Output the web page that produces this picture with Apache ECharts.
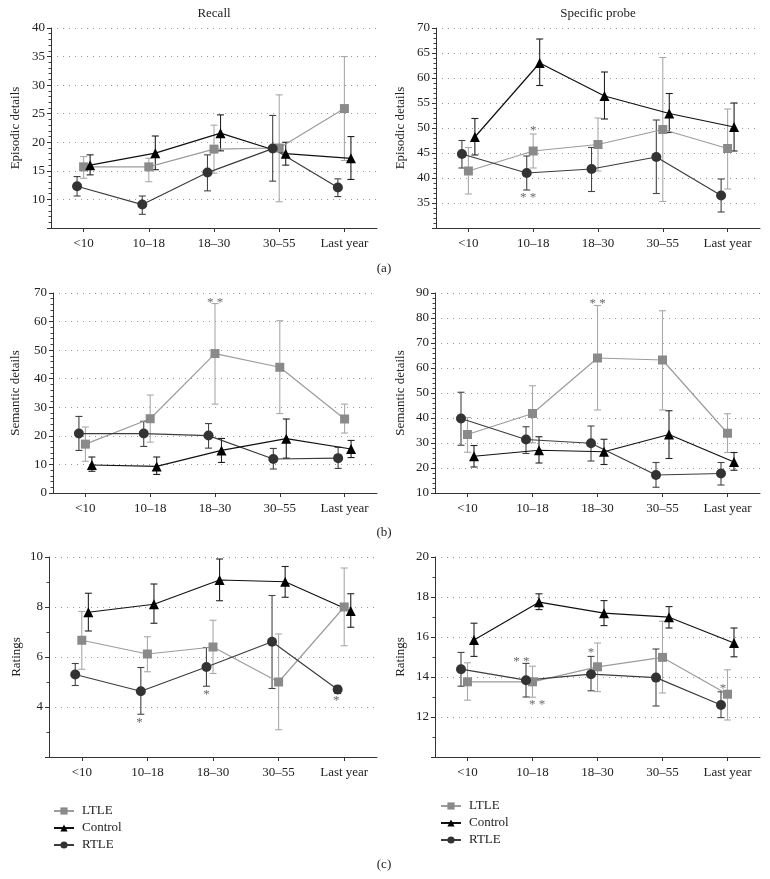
<!DOCTYPE html>
<html>
<head>
<meta charset="utf-8">
<script src="https://cdn.jsdelivr.net/npm/echarts@6/dist/echarts.min.js"></script>
<style>html,body{margin:0;padding:0;background:#fff;}#chart{width:770px;height:879px;}</style>
</head>
<body>
<div id="chart"></div>
<script>
// ---------- DATA ----------
const categories = ['<10', '10–18', '18–30', '30–55', 'Last year'];
const seriesNames = ['LTLE', 'Control', 'RTLE'];

// (a) Episodic details – Recall
const epiRecall_LTLE = [15.7, 15.7, 18.8, 19.0, 25.9];
const epiRecall_LTLE_err = [[13.7, 17.5], [13.1, 17.2], [14.6, 23.0], [9.6, 28.3], [16.8, 35.0]];
const epiRecall_Control = [16.0, 18.1, 21.6, 18.0, 17.2];
const epiRecall_Control_err = [[14.3, 17.8], [15.2, 21.1], [18.5, 24.8], [16.0, 20.0], [13.5, 21.0]];
const epiRecall_RTLE = [12.3, 9.1, 14.7, 18.9, 12.1];
const epiRecall_RTLE_err = [[10.6, 14.0], [7.4, 10.6], [11.5, 17.8], [13.2, 24.7], [10.5, 13.6]];

// (a) Episodic details – Specific probe
const epiProbe_LTLE = [41.4, 45.4, 46.7, 49.7, 45.9];
const epiProbe_LTLE_err = [[36.8, 46.1], [42.0, 48.8], [41.4, 52.0], [35.3, 64.1], [37.8, 53.8]];
const epiProbe_Control = [48.2, 63.0, 56.4, 52.9, 50.2];
const epiProbe_Control_err = [[44.6, 51.9], [58.5, 67.8], [51.8, 61.2], [49.1, 56.9], [45.4, 55.0]];
const epiProbe_RTLE = [44.8, 41.0, 41.8, 44.2, 36.5];
const epiProbe_RTLE_err = [[42.0, 47.5], [37.6, 44.4], [37.3, 46.1], [36.9, 51.6], [33.2, 39.8]];

// (b) Semantic details – Recall
const semRecall_LTLE = [17.1, 26.0, 48.8, 44.0, 25.9];
const semRecall_LTLE_err = [[11.1, 23.1], [17.8, 34.3], [31.1, 66.3], [27.8, 60.3], [21.0, 31.1]];
const semRecall_Control = [9.8, 9.3, 14.9, 19.0, 15.4];
const semRecall_Control_err = [[7.6, 12.6], [6.5, 12.6], [10.7, 19.1], [12.2, 25.9], [12.4, 18.4]];
const semRecall_RTLE = [20.8, 20.8, 20.1, 11.9, 12.2];
const semRecall_RTLE_err = [[14.9, 26.8], [16.3, 25.1], [15.7, 24.3], [8.4, 15.6], [8.6, 16.0]];

// (b) Semantic details – Specific probe
const semProbe_LTLE = [33.4, 41.8, 64.0, 63.2, 33.9];
const semProbe_LTLE_err = [[26.3, 40.2], [30.1, 52.9], [43.2, 85.0], [43.2, 82.9], [26.2, 41.7]];
const semProbe_Control = [24.7, 27.1, 26.5, 33.4, 22.4];
const semProbe_Control_err = [[20.4, 29.0], [22.0, 32.5], [21.4, 31.5], [23.8, 42.9], [19.1, 26.2]];
const semProbe_RTLE = [39.8, 31.4, 29.9, 17.2, 17.8];
const semProbe_RTLE_err = [[29.1, 50.3], [25.8, 36.5], [22.8, 36.8], [12.3, 22.2], [13.2, 22.2]];

// (c) Ratings – Recall
const ratRecall_LTLE = [6.67, 6.12, 6.40, 5.00, 8.00];
const ratRecall_LTLE_err = [[5.51, 7.82], [5.41, 6.81], [5.34, 7.47], [3.09, 6.92], [6.45, 9.56]];
const ratRecall_Control = [7.79, 8.11, 9.08, 9.01, 7.84];
const ratRecall_Control_err = [[7.04, 8.55], [7.35, 8.92], [8.25, 9.92], [8.39, 9.62], [7.19, 8.53]];
const ratRecall_RTLE = [5.30, 4.63, 5.60, 6.61, 4.70];
const ratRecall_RTLE_err = [[4.86, 5.74], [3.71, 5.58], [4.83, 6.38], [4.74, 8.46], [4.54, 4.84]];

// (c) Ratings – Specific probe
const ratProbe_LTLE = [13.76, 13.76, 14.51, 14.98, 13.14];
const ratProbe_LTLE_err = [[12.84, 14.71], [12.99, 14.54], [13.27, 15.70], [13.20, 16.79], [11.85, 14.36]];
const ratProbe_Control = [15.85, 17.74, 17.19, 16.99, 15.70];
const ratProbe_Control_err = [[15.03, 16.69], [17.37, 18.16], [16.57, 17.82], [16.45, 17.52], [15.01, 16.45]];
const ratProbe_RTLE = [14.39, 13.84, 14.14, 13.97, 12.60];
const ratProbe_RTLE_err = [[13.54, 15.23], [13.00, 14.68], [13.31, 15.03], [12.55, 15.40], [11.97, 13.26]];

// significance marks: [category position, y value, text]
const epiProbe_marks = [[1.0, 50.0, '*'], [0.92, 36.6, '* *']];
const semRecall_marks = [[2.0, 67.6, '* *']];
const semProbe_marks = [[2.0, 87.0, '* *']];
const ratRecall_marks = [[0.88, 3.5, '*'], [1.9, 4.6, '*'], [3.88, 4.37, '*']];
const ratProbe_marks = [[0.83, 14.92, '* *'], [1.07, 12.75, '* *'], [1.9, 15.35, '*'], [3.93, 13.55, '*']];

// ---------- CHART ----------
const FONT = '"Liberation Serif", "DejaVu Serif", serif';
const TXT = '#222';
const styles = {
  LTLE:    { symbol: 'rect',     size: 9,  marker: '#8a8a8a', line: '#9c9c9c', err: '#a9a9a9', dx: 0 },
  Control: { symbol: 'triangle', size: 10, marker: '#000000', line: '#111111', err: '#222222', dx: 0.1 },
  RTLE:    { symbol: 'circle',   size: 10, marker: '#333333', line: '#3c3c3c', err: '#444444', dx: -0.1 }
};

const panels = [
  { grid: { left: 51, top: 28, width: 326, height: 200 }, y: { min: 5, max: 40, interval: 5, minor: 5, hideMin: true }, name: 'Episodic details', gap: 29,
    data: { LTLE: [epiRecall_LTLE, epiRecall_LTLE_err], Control: [epiRecall_Control, epiRecall_Control_err], RTLE: [epiRecall_RTLE, epiRecall_RTLE_err] }, marks: [] },
  { grid: { left: 436, top: 28, width: 324, height: 200 }, y: { min: 30, max: 70, interval: 5, minor: 5, hideMin: true }, name: 'Episodic details', gap: 29,
    data: { LTLE: [epiProbe_LTLE, epiProbe_LTLE_err], Control: [epiProbe_Control, epiProbe_Control_err], RTLE: [epiProbe_RTLE, epiProbe_RTLE_err] }, marks: epiProbe_marks },
  { grid: { left: 53, top: 293, width: 324, height: 200 }, y: { min: 0, max: 70, interval: 10, minor: 5, hideMin: false }, name: 'Semantic details', gap: 31,
    data: { LTLE: [semRecall_LTLE, semRecall_LTLE_err], Control: [semRecall_Control, semRecall_Control_err], RTLE: [semRecall_RTLE, semRecall_RTLE_err] }, marks: semRecall_marks },
  { grid: { left: 435, top: 293, width: 325, height: 200 }, y: { min: 10, max: 90, interval: 10, minor: 5, hideMin: false }, name: 'Semantic details', gap: 28,
    data: { LTLE: [semProbe_LTLE, semProbe_LTLE_err], Control: [semProbe_Control, semProbe_Control_err], RTLE: [semProbe_RTLE, semProbe_RTLE_err] }, marks: semProbe_marks },
  { grid: { left: 49, top: 557, width: 328, height: 200 }, y: { min: 2, max: 10, interval: 2, minor: 2, hideMin: true }, name: 'Ratings', gap: 26,
    data: { LTLE: [ratRecall_LTLE, ratRecall_LTLE_err], Control: [ratRecall_Control, ratRecall_Control_err], RTLE: [ratRecall_RTLE, ratRecall_RTLE_err] }, marks: ratRecall_marks },
  { grid: { left: 435, top: 557, width: 325, height: 200 }, y: { min: 10, max: 20, interval: 2, minor: 2, hideMin: true }, name: 'Ratings', gap: 28,
    data: { LTLE: [ratProbe_LTLE, ratProbe_LTLE_err], Control: [ratProbe_Control, ratProbe_Control_err], RTLE: [ratProbe_RTLE, ratProbe_RTLE_err] }, marks: ratProbe_marks }
];

const grid = [], xAxis = [], yAxis = [], series = [];
panels.forEach((p, i) => {
  grid.push(Object.assign({ containLabel: false }, p.grid));
  // visible category axis
  xAxis.push({
    type: 'category', gridIndex: i, data: categories, boundaryGap: true,
    axisLine: { onZero: false, lineStyle: { color: '#333', width: 1 } },
    axisTick: { show: true, alignWithLabel: true, length: 4, lineStyle: { color: '#333' } },
    axisLabel: { fontFamily: FONT, fontSize: 13, color: TXT, margin: 9 },
    splitLine: { show: false }
  });
  yAxis.push({
    type: 'value', gridIndex: i, min: p.y.min, max: p.y.max, interval: p.y.interval,
    name: p.name, nameLocation: 'middle', nameGap: p.gap,
    nameTextStyle: { fontFamily: FONT, fontSize: 13, color: TXT },
    axisLine: { show: true, onZero: false, lineStyle: { color: '#333', width: 1 } },
    axisTick: { show: true, length: 4, lineStyle: { color: '#333' } },
    minorTick: { show: true, splitNumber: p.y.minor, length: 2.5, lineStyle: { color: '#444' } },
    axisLabel: { fontFamily: FONT, fontSize: 13, color: TXT, margin: 6,
      formatter: (v) => (p.y.hideMin && v === p.y.min) ? '' : String(v) },
    splitLine: { show: true, lineStyle: { color: '#9a9a9a', type: [1, 5], width: 1 } }
  });
});
// hidden value x axes for plotting with offsets
panels.forEach((p, i) => {
  xAxis.push({ type: 'value', gridIndex: i, min: -0.5, max: 4.5, show: false, splitLine: { show: false },
    axisLine: { onZero: false } });
});

panels.forEach((p, i) => {
  const xi = panels.length + i;
  ['LTLE', 'RTLE', 'Control'].forEach((name) => {
    const st = styles[name];
    const means = p.data[name][0];
    const errs = p.data[name][1];
    series.push({
      type: 'custom', name: name + ' err', xAxisIndex: xi, yAxisIndex: i, silent: true,
      data: errs.map((e, k) => [k + st.dx, e[0], e[1]]),
      encode: { x: 0, y: [1, 2] },
      z: 2,
      renderItem: (params, api) => {
        const x = api.value(0);
        const lo = api.coord([x, api.value(1)]);
        const hi = api.coord([x, api.value(2)]);
        const w = 3.5;
        const s = { stroke: st.err, lineWidth: 1.1 };
        return { type: 'group', children: [
          { type: 'line', shape: { x1: hi[0], y1: hi[1], x2: lo[0], y2: lo[1] }, style: s },
          { type: 'line', shape: { x1: hi[0] - w, y1: hi[1], x2: hi[0] + w, y2: hi[1] }, style: s },
          { type: 'line', shape: { x1: lo[0] - w, y1: lo[1], x2: lo[0] + w, y2: lo[1] }, style: s }
        ] };
      }
    });
    series.push({
      type: 'line', name: name, xAxisIndex: xi, yAxisIndex: i,
      data: means.map((v, k) => [k + st.dx, v]),
      symbol: st.symbol, symbolSize: st.size, showSymbol: true,
      lineStyle: { color: st.line, width: 1.2 },
      itemStyle: { color: st.marker, borderWidth: 0 },
      z: 3, animation: false
    });
  });
  if (p.marks.length) {
    series.push({
      type: 'scatter', name: 'sig', xAxisIndex: xi, yAxisIndex: i, silent: true,
      symbolSize: 0,
      data: p.marks.map(m => ({ value: [m[0], m[1]], label: { formatter: m[2] } })),
      label: { show: true, position: 'inside', offset: [0, 3], fontFamily: FONT, fontSize: 13, color: '#444' },
      z: 4
    });
  }
});

const textEl = (x, y, t) => ({ type: 'text', x: x, y: y, style: { text: t, font: '13px ' + FONT, fill: TXT, textAlign: 'center', textVerticalAlign: 'middle' } });

const legendBase = {
  orient: 'vertical', itemWidth: 20, itemHeight: 9, itemGap: 3,
  textStyle: { fontFamily: FONT, fontSize: 13, color: TXT, lineHeight: 14, padding: [0, 0, 0, 3] },
  data: seriesNames, selectedMode: false
};

const option = {
  animation: false,
  backgroundColor: '#fff',
  grid, xAxis, yAxis, series,
  legend: [
    Object.assign({ left: 48, top: 799 }, legendBase),
    Object.assign({ left: 435, top: 794 }, legendBase)
  ],
  graphic: [
    textEl(214, 14, 'Recall'),
    textEl(598, 14, 'Specific probe'),
    textEl(384, 269, '(a)'),
    textEl(384, 533, '(b)'),
    textEl(384, 865, '(c)')
  ]
};

const chart = echarts.init(document.getElementById('chart'), null, { renderer: 'canvas' });
chart.setOption(option);
</script>
</body>
</html>
